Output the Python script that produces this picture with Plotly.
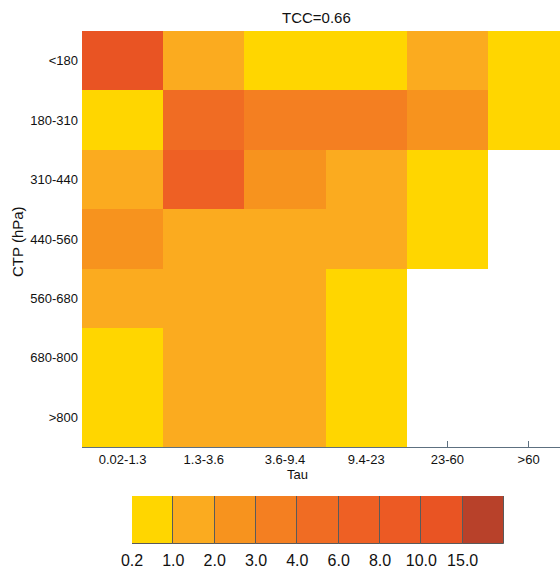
import numpy as np
import plotly.graph_objects as go

# ---------------- data ----------------
tau_labels = ["0.02-1.3", "1.3-3.6", "3.6-9.4", "9.4-23", "23-60", ">60"]
ctp_labels = ["<180", "180-310", "310-440", "440-560", "560-680", "680-800", ">800"]
nan = np.nan
row_lt180 = [11.5, 1.5, 0.6, 0.7, 1.6, 0.5]
row_180_310 = [0.8, 4.8, 3.5, 3.4, 2.4, 0.6]
row_310_440 = [1.7, 6.5, 2.5, 1.5, 0.7, nan]
row_440_560 = [2.3, 1.4, 1.6, 1.5, 0.6, nan]
row_560_680 = [1.8, 1.6, 1.7, 0.9, nan, nan]
row_680_800 = [0.9, 1.5, 1.6, 0.8, nan, nan]
row_gt800 = [0.9, 1.7, 1.5, 0.7, nan, nan]
bounds = [0.2, 1.0, 2.0, 3.0, 4.0, 6.0, 8.0, 10.0, 15.0]
bound_labels = ["0.2", "1.0", "2.0", "3.0", "4.0", "6.0", "8.0", "10.0", "15.0"]
bin_colors = ["#FFD600", "#FBAB1F", "#F7931E", "#F47F21", "#F06C23",
              "#EE6024", "#EC5A24", "#E95423", "#B8412A"]
title_text = "TCC=0.66"

# ---------------- processing ----------------
values = np.array([row_lt180, row_180_310, row_310_440, row_440_560,
                   row_560_680, row_680_800, row_gt800], dtype=float)
bins = np.digitize(values, bounds) - 1
bins = np.clip(bins, 0, len(bin_colors) - 1).astype(float)
bins[np.isnan(values)] = np.nan

n = len(bin_colors)
colorscale = []
for i, c in enumerate(bin_colors):
    colorscale.append([i / n, c])
    colorscale.append([(i + 1) / n, c])

FONT = "Liberation Sans, Arial, Helvetica, sans-serif"
W, H = 560, 570
ML, MT = 82, 31
PW, PH = W - ML, H - MT

def px_x(p):
    return (p - ML) / PW

def px_y(p):
    return (H - p) / PH

fig = go.Figure()
fig.add_trace(go.Heatmap(
    z=bins, x=list(range(len(tau_labels))), y=list(range(len(ctp_labels))),
    customdata=values, colorscale=colorscale, zmin=-0.5, zmax=n - 0.5,
    showscale=False, hovertemplate="%{customdata}<extra></extra>",
))

# discrete colour bar drawn as bars
fig.add_trace(go.Bar(
    x=list(range(n)), y=[1] * n, width=1,
    marker=dict(color=bin_colors, line=dict(color="#5a5a5a", width=1)),
    xaxis="x2", yaxis="y2", showlegend=False, hoverinfo="skip",
))

col_w = (488 - 82) / 5.0
fig.update_layout(
    width=W, height=H,
    margin=dict(l=ML, r=0, t=MT, b=0),
    paper_bgcolor="white", plot_bgcolor="white",
    font=dict(family=FONT, size=13, color="#111111"),
    showlegend=False,
    xaxis=dict(
        domain=[0, 1], range=[-0.5, -0.5 + PW / col_w],
        tickvals=list(range(len(tau_labels))), ticktext=tau_labels,
        showgrid=False, zeroline=False,
        showline=True, linecolor="#5d7080", linewidth=1,
        ticks="inside", ticklen=6, tickcolor="#5d7080",
        layer="below traces", tickfont=dict(size=13),
    ),
    yaxis=dict(
        domain=[px_y(447), 1], range=[len(ctp_labels) - 0.5, -0.5],
        tickvals=list(range(len(ctp_labels))), ticktext=ctp_labels,
        showgrid=False, zeroline=False, showline=False, ticks="",
        tickfont=dict(size=13), ticklabelstandoff=3,
    ),
    xaxis2=dict(
        domain=[px_x(132), px_x(504)], range=[-0.5, n - 0.5], anchor="y2",
        tickvals=[i - 0.5 for i in range(n)], ticktext=bound_labels,
        showgrid=False, zeroline=False, showline=False, ticks="",
        tickfont=dict(size=16), ticklabelstandoff=5,
    ),
    yaxis2=dict(
        domain=[px_y(544), px_y(496)], range=[0, 1], anchor="x2",
        visible=False, fixedrange=True,
    ),
    bargap=0,
    annotations=[
        dict(text=title_text, x=px_x(316), y=px_y(18), xref="paper", yref="paper",
             showarrow=False, font=dict(size=15), xanchor="center", yanchor="middle"),
        dict(text="Tau", x=px_x(297), y=px_y(474), xref="paper", yref="paper",
             showarrow=False, font=dict(size=13), xanchor="center", yanchor="middle"),
        dict(text="CTP (hPa)", x=px_x(17), y=px_y(242), xref="paper", yref="paper",
             showarrow=False, font=dict(size=15), textangle=-90,
             xanchor="center", yanchor="middle"),
    ],
)

fig.write_html(
    "out.html",
    config={"displayModeBar": False},
    post_script="document.body.style.margin='0';document.body.style.overflow='hidden';",
)
